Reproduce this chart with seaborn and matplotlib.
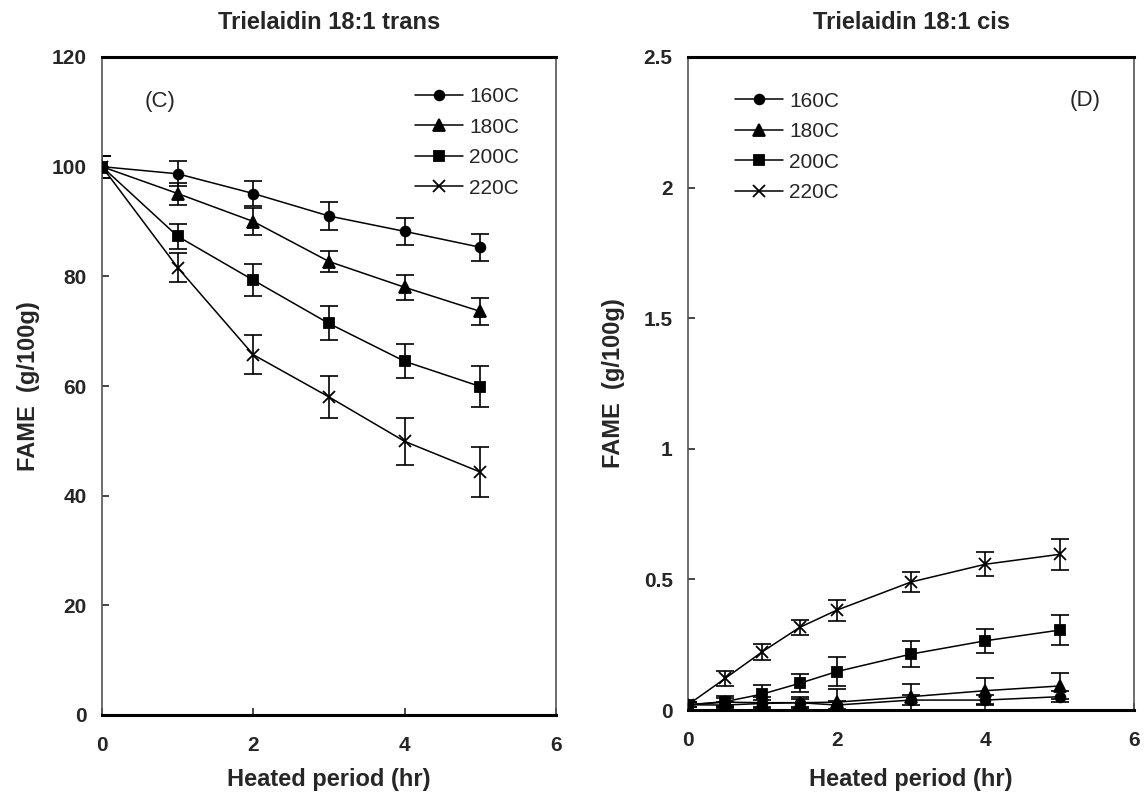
import matplotlib
matplotlib.use("Agg")
import matplotlib.pyplot as plt
import seaborn as sns
import pandas as pd
import numpy as np

# 左图: 18:1 trans
hours_trans = [0, 1, 2, 3, 4, 5]
trans_160 = [100.0, 98.7, 95.1, 91.0, 88.2, 85.3]
trans_180 = [100.0, 95.1, 90.0, 82.7, 78.0, 73.6]
trans_200 = [100.0, 87.3, 79.3, 71.4, 64.5, 59.9]
trans_220 = [100.0, 81.6, 65.7, 58.0, 49.9, 44.3]
trans_160_err = [2.0, 2.3, 2.2, 2.5, 2.4, 2.5]
trans_180_err = [2.0, 2.0, 2.4, 2.0, 2.3, 2.4]
trans_200_err = [2.0, 2.3, 2.9, 3.1, 3.1, 3.7]
trans_220_err = [2.0, 2.6, 3.6, 3.8, 4.3, 4.5]

# 右图: 18:1 cis
hours_cis = [0, 0.5, 1, 1.5, 2, 3, 4, 5]
cis_160 = [0.02, 0.019, 0.025, 0.028, 0.019, 0.038, 0.038, 0.051]
cis_180 = [0.02, 0.030, 0.028, 0.028, 0.030, 0.051, 0.074, 0.092]
cis_200 = [0.02, 0.032, 0.061, 0.102, 0.147, 0.214, 0.265, 0.306]
cis_220 = [0.02, 0.121, 0.223, 0.316, 0.382, 0.490, 0.558, 0.596]
cis_160_err = [0.01, 0.01, 0.015, 0.015, 0.015, 0.02, 0.02, 0.02]
cis_180_err = [0.01, 0.015, 0.02, 0.02, 0.05, 0.05, 0.05, 0.05]
cis_200_err = [0.01, 0.02, 0.035, 0.035, 0.057, 0.05, 0.045, 0.056]
cis_220_err = [0.01, 0.03, 0.03, 0.03, 0.04, 0.04, 0.045, 0.06]

temps = ['160C', '180C', '200C', '220C']
markers = ['o', '^', 's', 'x']
msizes = [7, 8, 6.5, 8]

sns.set_style("white")
plt.rcParams['font.family'] = ['Liberation Sans', 'DejaVu Sans']

fig = plt.figure(figsize=(11.46, 7.93), dpi=100)
ax1 = fig.add_axes([102 / 1146, 1 - 715 / 793, 454 / 1146, 658 / 793])
ax2 = fig.add_axes([688 / 1146, 1 - 710 / 793, 446 / 1146, 653 / 793])


def draw(ax, hours, series, errs, ylim, yticks, ylabels, title, tag, tag_xy,
         leg_xy, ylab_x, xlab_y):
    for t, vals, es, m, ms in zip(temps, series, errs, markers, msizes):
        ax.errorbar(hours, vals, yerr=es, fmt='none', ecolor='black',
                    elinewidth=1.2, capsize=6.5, capthick=1.2, zorder=2)
        d = pd.DataFrame({'hr': hours, 'FAME': vals})
        sns.lineplot(data=d, x='hr', y='FAME', marker=m, color='black', label=t,
                     ax=ax, linewidth=1.1, markersize=ms,
                     markeredgecolor='black', markeredgewidth=1.3, zorder=3)
    ax.set_xlim(0, 6)
    ax.set_ylim(*ylim)
    ax.set_xticks([0, 2, 4, 6])
    ax.set_yticks(yticks)
    ax.set_yticklabels(ylabels)
    ax.tick_params(axis='both', labelsize=15, direction='in', length=5, width=1.2,
                   left=True, bottom=True)
    ax.tick_params(axis='x', pad=15)
    ax.tick_params(axis='y', pad=11)
    for lab in ax.get_xticklabels() + ax.get_yticklabels():
        lab.set_fontweight('bold')
    for side in ['left', 'right']:
        ax.spines[side].set_color('#555555')
        ax.spines[side].set_linewidth(1.2)
    for side in ['top', 'bottom']:
        ax.spines[side].set_color('black')
        ax.spines[side].set_linewidth(2.2)
    ax.set_xlabel('Heated period (hr)', fontsize=17, fontweight='bold')
    ax.set_ylabel('FAME  (g/100g)', fontsize=17, fontweight='bold')
    ax.yaxis.set_label_coords(ylab_x, 0.5)
    ax.xaxis.set_label_coords(0.5, xlab_y)
    ax.set_title(title, fontsize=17, fontweight='bold', pad=20)
    ax.text(tag_xy[0], tag_xy[1], tag, transform=ax.transAxes, fontsize=16,
            ha='center', va='center')
    ax.legend(loc='upper left', bbox_to_anchor=leg_xy, frameon=False, fontsize=15,
              handlelength=2.3, handletextpad=0.3, labelspacing=0.55,
              borderpad=0, borderaxespad=0)


draw(ax1, hours_trans, [trans_160, trans_180, trans_200, trans_220],
     [trans_160_err, trans_180_err, trans_200_err, trans_220_err],
     (0, 120), [0, 20, 40, 60, 80, 100, 120],
     ['0', '20', '40', '60', '80', '100', '120'],
     'Trielaidin 18:1 trans', '(C)', (0.128, 0.933), (0.689, 0.954),
     -0.137, -0.08)
draw(ax2, hours_cis, [cis_160, cis_180, cis_200, cis_220],
     [cis_160_err, cis_180_err, cis_200_err, cis_220_err],
     (0, 2.5), [0, 0.5, 1, 1.5, 2, 2.5],
     ['0', '0.5', '1', '1.5', '2', '2.5'],
     'Trielaidin 18:1 cis', '(D)', (0.89, 0.934), (0.105, 0.947),
     -0.141, -0.089)

fig.savefig('out.png', dpi=100)
